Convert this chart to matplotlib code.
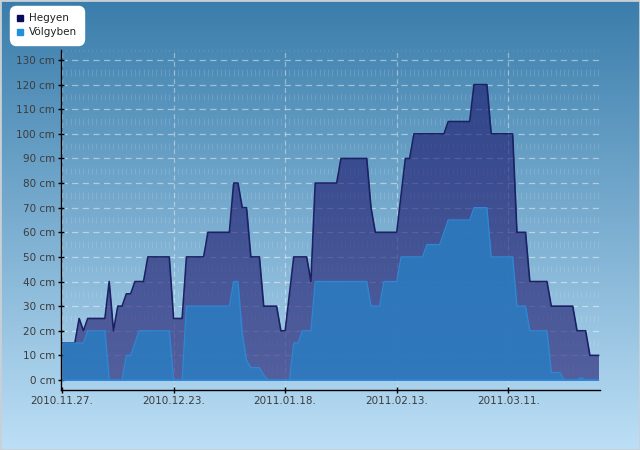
import numpy as np
import pandas as pd
import matplotlib
matplotlib.use('Agg')
import matplotlib.pyplot as plt
import matplotlib.dates as mdates
from matplotlib.lines import Line2D
from matplotlib.colors import LinearSegmentedColormap
from matplotlib.patches import Rectangle

start_date = '2010-11-27'

hegyen = [15, 15, 15, 15, 25, 20, 25, 25, 25, 25,
          25, 40, 20, 30, 30, 35, 35, 40, 40, 40,
          50, 50, 50, 50, 50, 50, 25, 25, 25, 50,
          50, 50, 50, 50, 60, 60, 60, 60, 60, 60,
          80, 80, 70, 70, 50, 50, 50, 30, 30, 30,
          30, 20, 20, 35, 50, 50, 50, 50, 40, 80,
          80, 80, 80, 80, 80, 90, 90, 90, 90, 90,
          90, 90, 70, 60, 60, 60, 60, 60, 60, 75,
          90, 90, 100, 100, 100, 100, 100, 100, 100, 100,
          105, 105, 105, 105, 105, 105, 120, 120, 120, 120,
          100, 100, 100, 100, 100, 100, 60, 60, 60, 40,
          40, 40, 40, 40, 30, 30, 30, 30, 30, 30,
          20, 20, 20, 10, 10, 10]

volgyben = [15, 15, 15, 15, 15, 15, 20, 20, 20, 20,
            20, 0, 0, 0, 0, 10, 10, 15, 20, 20,
            20, 20, 20, 20, 20, 20, 0, 0, 0, 30,
            30, 30, 30, 30, 30, 30, 30, 30, 30, 30,
            40, 40, 19, 8, 5, 5, 5, 2, 0, 0,
            0, 0, 0, 0, 15, 15, 20, 20, 20, 40,
            40, 40, 40, 40, 40, 40, 40, 40, 40, 40,
            40, 40, 30, 30, 30, 40, 40, 40, 40, 50,
            50, 50, 50, 50, 50, 55, 55, 55, 55, 60,
            65, 65, 65, 65, 65, 65, 70, 70, 70, 70,
            50, 50, 50, 50, 50, 50, 30, 30, 30, 20,
            20, 20, 20, 20, 3, 3, 3, 0, 0, 0,
            0, 1, 0, 0, 0, 0]

series_names = ['Hegyen', 'Völgyben']
x_tick_dates = ['2010-11-27', '2010-12-23', '2011-01-18', '2011-02-13', '2011-03-11']
x_tick_labels = ['2010.11.27.', '2010.12.23.', '2011.01.18.', '2011.02.13.', '2011.03.11.']
y_ticks = [0, 10, 20, 30, 40, 50, 60, 70, 80, 90, 100, 110, 120, 130]
y_tick_labels = [f'{v} cm' for v in y_ticks]

assert len(hegyen) == len(volgyben) == 126

fig = plt.figure(figsize=(6.4, 4.5), dpi=100)

# background gradient
bg = fig.add_axes([0, 0, 1, 1], zorder=-10)
bg.axis('off')
grad = np.linspace(0, 1, 256).reshape(-1, 1)
cmap = LinearSegmentedColormap.from_list('bg', ['#3a7dab', '#bcdff6'])
bg.imshow(grad, aspect='auto', cmap=cmap, extent=[0, 1, 0, 1], origin='upper')
bg.set_xlim(0, 1)
bg.set_ylim(0, 1)
bg.add_patch(Rectangle((0, 0), 1, 1, transform=fig.transFigure, fill=False,
                       edgecolor='#c8d0d6', lw=2, zorder=5))

ax = fig.add_axes([61 / 640, 60 / 450, 539 / 640, 340 / 450])
ax.patch.set_alpha(0)

dates = pd.date_range(start_date, periods=len(hegyen), freq='D')
xnum = mdates.date2num(dates)
tick_num = mdates.date2num(pd.to_datetime(x_tick_dates))

ymin, ymax = -4.06, 134.06
ax.set_xlim(xnum[0] - 0.23, xnum[-1] + 0.35)
ax.set_ylim(ymin, ymax)

# minor vertical day marks (dashed look)
for c in np.arange(-5, 140, 10):
    ax.vlines(xnum, c - 1.3, c + 1.3, colors='white', alpha=0.13, lw=0.8, zorder=1)

# horizontal dashed grid
for v in y_ticks[1:]:
    ax.axhline(v, color='white', alpha=0.45, lw=0.9, ls=(0, (5, 3.5)), zorder=1)
# vertical dashed grid at tick dates
for t in tick_num:
    ax.axvline(t, color='white', alpha=0.4, lw=0.9, ls=(0, (4, 3)), zorder=1)

# series
ax.fill_between(xnum, 0, hegyen, color=(0.10, 0.08, 0.42), alpha=0.6, lw=0, zorder=2)
ax.plot(xnum, hegyen, color='#1b2163', lw=1.2, zorder=2.5)
ax.fill_between(xnum, 0, volgyben, color='#2b7cc0', alpha=0.87, lw=0, zorder=3)
ax.plot(xnum, volgyben, color='#2f86d2', lw=1, zorder=3.5)
ax.plot(xnum, np.zeros(len(xnum)), color='#2b86d6', lw=1.2, zorder=3.6)

# axes styling
for s in ['top', 'right']:
    ax.spines[s].set_visible(False)
for s in ['left', 'bottom']:
    ax.spines[s].set_color('black')
    ax.spines[s].set_linewidth(1)
    ax.spines[s].set_zorder(4)

ax.set_yticks(y_ticks)
ax.set_yticklabels(y_tick_labels)
ax.set_xticks(tick_num)
ax.set_xticklabels(x_tick_labels)
ax.tick_params(direction='inout', length=4.3, width=1, color='black',
               labelsize=7.5, labelcolor='#3c3c3c')
ax.tick_params(axis='y', pad=2)
ax.tick_params(axis='x', pad=2)

# legend
handles = [Line2D([], [], marker='s', ls='', color='#0b0b5c', markersize=5),
           Line2D([], [], marker='s', ls='', color='#1e90dc', markersize=5)]
leg = fig.legend(handles, series_names, loc='upper left',
                 bbox_to_anchor=(12 / 640, 1 - 8 / 450), borderaxespad=0,
                 frameon=True, fancybox=True, fontsize=7.5, handlelength=0.6,
                 handletextpad=0.5, borderpad=0.5, labelspacing=0.4,
                 facecolor='white', edgecolor='white', framealpha=1)
leg.get_frame().set_boxstyle('round', pad=0.2, rounding_size=0.6)
for t in leg.get_texts():
    t.set_color('#222222')

fig.savefig('out.png', dpi=100)
